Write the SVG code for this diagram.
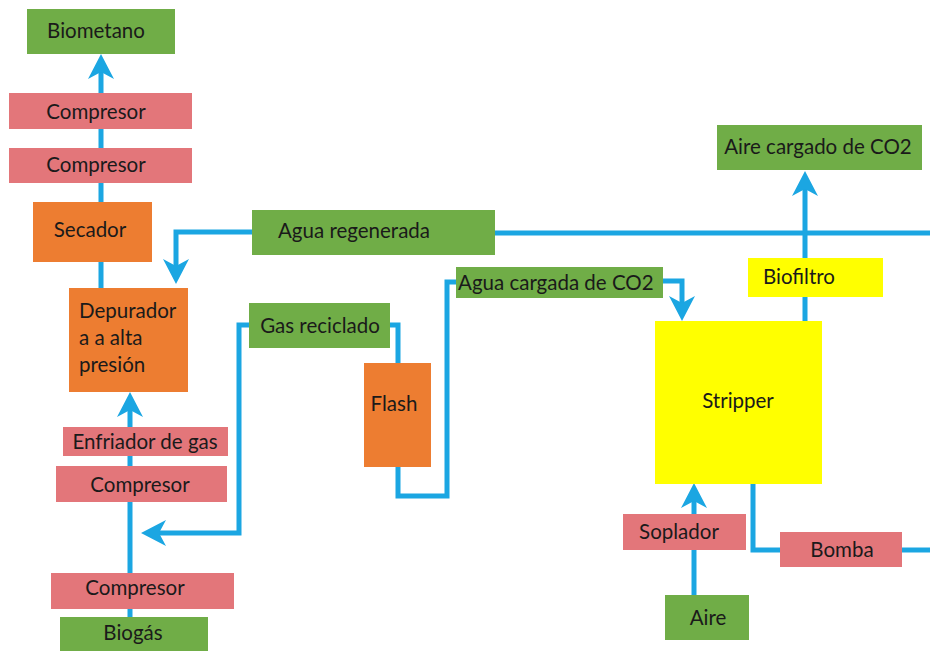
<svg xmlns="http://www.w3.org/2000/svg" width="930" height="651" viewBox="0 0 930 651">
<defs>
<style>
.g{fill:#70AD47}
.p{fill:#E3767A}
.o{fill:#ED7D31}
.y{fill:#FFFF00}
text{font-family:Lato,"Liberation Sans",sans-serif;font-size:20.5px;fill:#1a1a1a;dominant-baseline:central}
.c{text-anchor:middle}
.ln{fill:none;stroke:#1BA6E2;stroke-width:5;stroke-linejoin:miter}
</style>
<marker id="ah" markerUnits="userSpaceOnUse" markerWidth="26" markerHeight="26" viewBox="0 0 26 26" refX="12" refY="13" orient="auto">
<path d="M0,0 L25,13 L0,26 L7,13 z" fill="#1BA6E2"/>
</marker>
</defs>
<rect width="930" height="651" fill="#fff"/>
<g id="connectors">
<path class="ln" d="M101,288 V67" marker-end="url(#ah)"/>
<path class="ln" d="M130,617 V405" marker-end="url(#ah)"/>
<path class="ln" d="M252,232 H176 V271" marker-end="url(#ah)"/>
<path class="ln" d="M495,233 H930"/>
<path class="ln" d="M249,325 H239 V533 H154" marker-end="url(#ah)"/>
<path class="ln" d="M390,325 H398 V363"/>
<path class="ln" d="M398,467 V496 H447 V282 H457"/>
<path class="ln" d="M663,281 H682 V308" marker-end="url(#ah)"/>
<path class="ln" d="M805,321 V184" marker-end="url(#ah)"/>
<path class="ln" d="M694,595 V496" marker-end="url(#ah)"/>
<path class="ln" d="M753,484 V550 H780"/>
<path class="ln" d="M902,550 H930"/>
</g>
<g id="biometano"><rect class="g" x="27" y="9" width="148" height="45"/><text class="c" x="96" y="30">Biometano</text></g>
<g id="compresor1"><rect class="p" x="9" y="93" width="183" height="36"/><text class="c" x="96" y="111">Compresor</text></g>
<g id="compresor2"><rect class="p" x="9" y="148" width="183" height="35"/><text class="c" x="96" y="164">Compresor</text></g>
<g id="secador"><rect class="o" x="33" y="202" width="119" height="60"/><text class="c" x="90" y="229">Secador</text></g>
<g id="depurador"><rect class="o" x="69" y="288" width="119" height="104"/><text x="79" y="310">Depurador</text><text x="79" y="337">a a alta</text><text x="79" y="364">presión</text></g>
<g id="enfriador"><rect class="p" x="63" y="427" width="165" height="29"/><text class="c" x="145" y="441">Enfriador de gas</text></g>
<g id="compresor3"><rect class="p" x="56" y="466" width="171" height="36"/><text class="c" x="140" y="484">Compresor</text></g>
<g id="compresor4"><rect class="p" x="51" y="573" width="183" height="36"/><text class="c" x="135" y="587">Compresor</text></g>
<g id="biogas"><rect class="g" x="60" y="617" width="148" height="34"/><text class="c" x="133" y="632">Biogás</text></g>
<g id="agua-regenerada"><rect class="g" x="252" y="210" width="243" height="45"/><text class="c" x="354" y="230">Agua regenerada</text></g>
<g id="gas-reciclado"><rect class="g" x="249" y="303" width="141" height="45"/><text class="c" x="320" y="325">Gas reciclado</text></g>
<g id="flash"><rect class="o" x="364" y="363" width="67" height="104"/><text class="c" x="394" y="403">Flash</text></g>
<g id="agua-cargada"><rect class="g" x="456" y="267" width="207" height="31"/><text x="458" y="282">Agua cargada de CO2</text></g>
<g id="aire-cargado"><rect class="g" x="717" y="125" width="205" height="45"/><text class="c" x="818" y="146">Aire cargado de CO2</text></g>
<g id="biofiltro"><rect class="y" x="748" y="258" width="135" height="39"/><text x="763" y="276">Biofiltro</text></g>
<g id="stripper"><rect class="y" x="655" y="321" width="167" height="163"/><text class="c" x="738" y="400">Stripper</text></g>
<g id="soplador"><rect class="p" x="623" y="514" width="123" height="36"/><text class="c" x="679" y="531">Soplador</text></g>
<g id="bomba"><rect class="p" x="780" y="532" width="122" height="35"/><text class="c" x="842" y="549">Bomba</text></g>
<g id="aire"><rect class="g" x="665" y="595" width="84" height="45"/><text class="c" x="708" y="617">Aire</text></g>
</svg>
